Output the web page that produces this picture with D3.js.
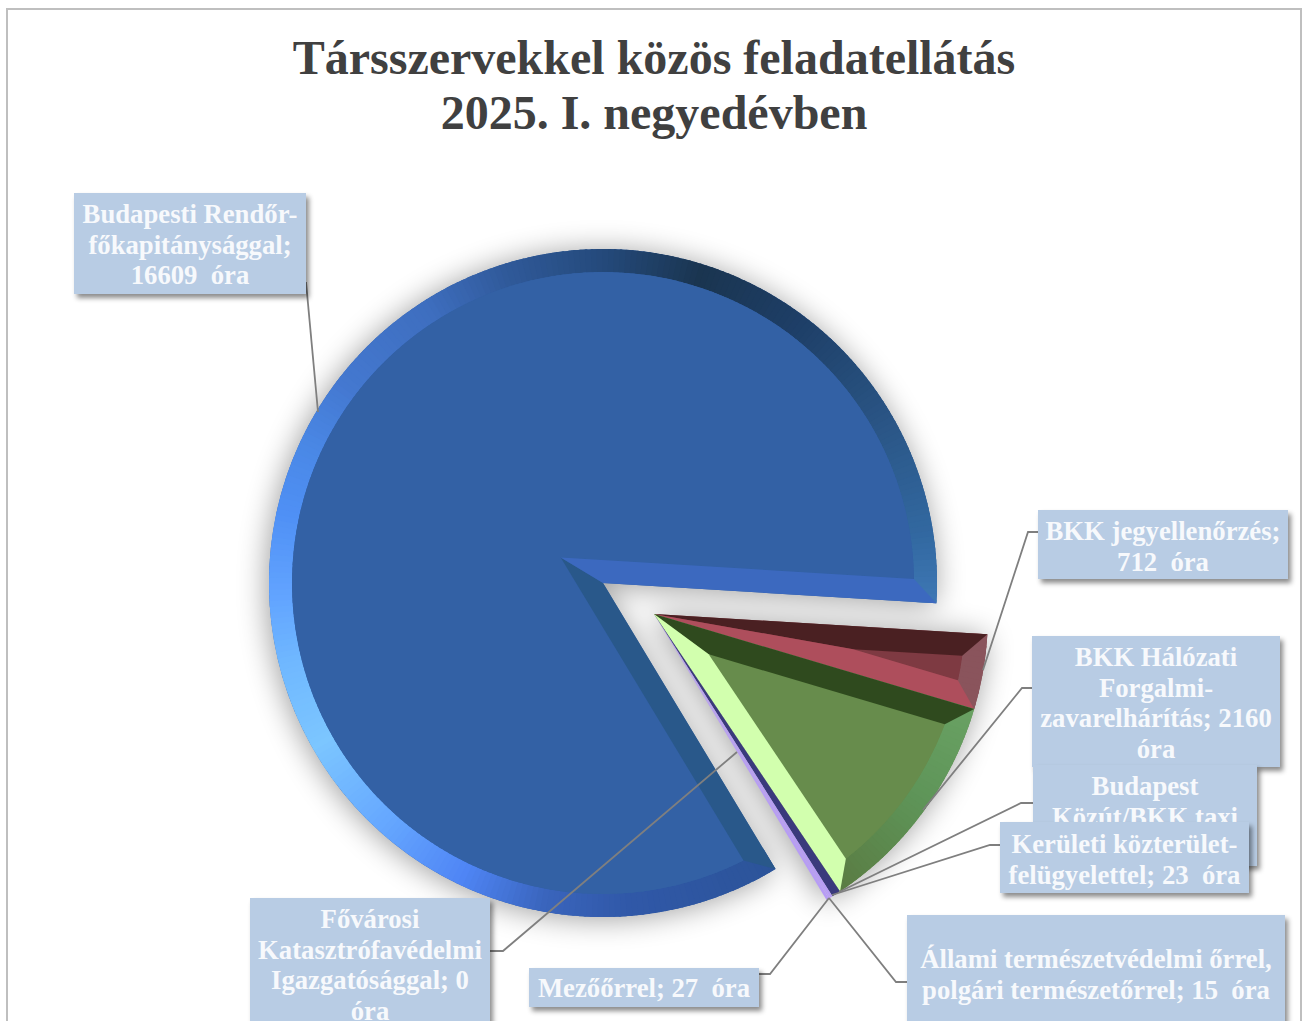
<!DOCTYPE html>
<html>
<head>
<meta charset="utf-8">
<script src="https://d3js.org/d3.v7.min.js"></script>
<style>
  html, body { margin: 0; padding: 0; background: #fff; overflow: hidden; }
  text { font-family: "Liberation Serif", serif; font-weight: bold; white-space: pre; }
</style>
</head>
<body>
<div id="chart"></div>
<script>
const width = 1306;
const height = 1021;

const titleLines = ["Társszervekkel közös feladatellátás", "2025. I. negyedévben"];

// Slice order is the drawing order of the pie, clockwise
const categories = [
    "Budapesti Rendőr-főkapitánysággal",
    "BKK jegyellenőrzés",
    "BKK Hálózati Forgalmi-zavarelhárítás",
    "Budapest Közút/BKK taxi",
    "Kerületi közterület-felügyelettel",
    "Állami természetvédelmi őrrel, polgári természetőrrel",
    "Mezőőrrel",
    "Fővárosi Katasztrófavédelmi Igazgatósággal"
];
// Budapest Közút value is hidden behind another label in the picture, this is an estimate
const values = [16609, 712, 2160, 85, 23, 15, 27, 0];

const faceColors = ["#3361a5", "#7e3a42", "#678c4c", "#3a3a7c", "#b79cf5", "#b79cf5", "#b79cf5", "#b79cf5"];
const startEdgeColors = ["#29588a", "#4a2022", "#2f4a1e"];
const endEdgeColors = ["#3c69bf", "#ae4e5c", "#d2ffae"];

// Rim colours change with direction, degrees clockwise from 12 o'clock, counted on from the pie start
const rimAngles = [
    [148, 175, 190, 205, 222, 240, 255, 267, 282, 294, 307, 327, 342, 360, 377, 397, 419.5, 440.5, 453.4],
    [453, 467],
    [466, 485, 507]
];
const rimColors = [
    ["#2c5499", "#3058a8", "#3a65bd", "#4f85f5", "#66a8ff", "#7cc6ff", "#70b8ff", "#62a4ff", "#4f90f5", "#4a88e6",
     "#4478d0", "#3e6ebf", "#305a9a", "#24497a", "#1a3550", "#1e3f68", "#2a5585", "#3268a0", "#3f78b5"],
    ["#8a545c", "#8a545c"],
    ["#69a163", "#5e9458", "#5a7a42"]
];

const labelLines = [
    ["Budapesti Rendőr-", "főkapitánysággal;", "16609  óra"],
    ["BKK jegyellenőrzés;", "712  óra"],
    ["BKK Hálózati", "Forgalmi-", "zavarelhárítás; 2160", "óra"],
    ["Budapest", "Közút/BKK taxi"],
    ["Kerületi közterület-", "felügyelettel; 23  óra"],
    ["Állami természetvédelmi őrrel,", "polgári természetőrrel; 15  óra"],
    ["Mezőőrrel; 27  óra"],
    ["Fővárosi", "Katasztrófavédelmi", "Igazgatósággal; 0", "óra"]
];

// Label layout, x/y/w/h of the box, first text baseline centre and line step
const labelBoxes = [
    { x: 74, y: 193, w: 232, h: 101, cy: 214 },
    { x: 1038, y: 510, w: 250, h: 69, cy: 531 },
    { x: 1032, y: 636, w: 248, h: 131, cy: 657 },
    { x: 1033, y: 765, w: 224, h: 101, cy: 786 },
    { x: 1000, y: 822, w: 249, h: 71, cy: 844 },
    { x: 907, y: 915, w: 378, h: 118, cy: 959 },
    { x: 529, y: 968, w: 230, h: 39, cy: 988 },
    { x: 250, y: 898, w: 240, h: 132, cy: 919 }
];
const leaderLines = [
    [[306, 282], [318, 412]],
    [[1038, 532], [1028, 532], [983, 670]],
    [[1032, 688], [1022, 688], [923, 810]],
    [[1033, 803], [1021, 803], [839, 892]],
    [[1002, 845], [990, 845], [832, 895]],
    [[907, 982], [896, 982], [829, 898]],
    [[759, 974], [770, 974], [829, 898]],
    [[490, 951], [503, 951], [737, 752]]
];

const center = { x: 603, y: 583 };
const explode = { x: 51, y: 31 };
const radius = 334;
const bevel = 23;
const lineStep = 30.7;

const svg = d3.select("#chart")
    .append("svg")
    .attr("width", width)
    .attr("height", height)
    .style("display", "block");

const defs = svg.append("defs");

defs.append("filter")
    .attr("id", "pie-shadow")
    .attr("filterUnits", "userSpaceOnUse")
    .attr("x", 0).attr("y", 0).attr("width", width).attr("height", height)
    .append("feGaussianBlur")
    .attr("stdDeviation", 15);

const boxShadow = defs.append("filter")
    .attr("id", "box-shadow")
    .attr("x", "-10%").attr("y", "-20%").attr("width", "125%").attr("height", "150%");
boxShadow.append("feDropShadow")
    .attr("dx", 3).attr("dy", 4).attr("stdDeviation", 2.5)
    .attr("flood-color", "#000").attr("flood-opacity", 0.45);

// Frame
svg.append("rect")
    .attr("x", 7).attr("y", 9)
    .attr("width", 1294).attr("height", 1040)
    .attr("fill", "#fff")
    .attr("stroke", "#bfbfbf")
    .attr("stroke-width", 2);

svg.append("g").selectAll("text")
    .data(titleLines)
    .enter()
    .append("text")
    .attr("x", 654)
    .attr("y", (d, i) => 74 + i * 55)
    .attr("text-anchor", "middle")
    .attr("fill", "#404040")
    .style("font-size", "48px")
    .text(d => d);

const pieLayout = d3.pie()
    .sort(null)
    .startAngle(148.9 * Math.PI / 180)
    .endAngle((148.9 + 360) * Math.PI / 180);
const arcs = pieLayout(values);

// Angle 0 is up, clockwise, same as d3.arc
function polar(o, r, a) {
    return [o.x + r * Math.sin(a), o.y - r * Math.cos(a)];
}

function originOf(i) {
    return i === 0 ? center : { x: center.x + explode.x, y: center.y + explode.y };
}

function polyPath(points) {
    return "M" + points.map(p => p.join(",")).join("L") + "Z";
}

function outlinePath(d, i) {
    const o = originOf(i);
    const p = d3.path();
    const p0 = polar(o, radius, d.startAngle);
    p.moveTo(o.x, o.y);
    p.lineTo(p0[0], p0[1]);
    p.arc(o.x, o.y, radius, d.startAngle - Math.PI / 2, d.endAngle - Math.PI / 2);
    p.closePath();
    return p.toString();
}

const shadowLayer = svg.append("g")
    .attr("filter", "url(#pie-shadow)")
    .attr("opacity", 0.38)
    .attr("transform", "translate(-2,2)");
shadowLayer.selectAll("path")
    .data(arcs.filter(d => d.value > 0))
    .enter()
    .append("path")
    .attr("d", (d) => outlinePath(d, d.index))
    .attr("fill", "#000");

const pieLayer = svg.append("g");

arcs.forEach((d, i) => {
    if (d.value === 0) return;
    const o = originOf(i);
    const g = pieLayer.append("g");

    // Slivers are too thin for a bevel, plain wedge
    if (i >= rimAngles.length) {
        g.append("path").attr("d", outlinePath(d, i)).attr("fill", faceColors[i]);
        return;
    }

    const rIn = radius - bevel;
    const half = (d.endAngle - d.startAngle) / 2;
    const mid = (d.startAngle + d.endAngle) / 2;
    const delta = Math.asin(bevel / rIn);
    const innerApex = polar(o, bevel / Math.sin(half), mid);
    const innerStart = polar(o, rIn, d.startAngle + delta);
    const innerEnd = polar(o, rIn, d.endAngle - delta);

    g.append("path").attr("d", outlinePath(d, i)).attr("fill", faceColors[i]);

    // Rim, short arc pieces coloured by direction
    const rimColor = d3.scaleLinear()
        .domain(rimAngles[i])
        .range(rimColors[i]);
    const rimArc = d3.arc().innerRadius(rIn).outerRadius(radius);
    const step = Math.PI / 180;
    const rim = g.append("g").attr("transform", `translate(${o.x},${o.y})`);
    for (let a = d.startAngle; a < d.endAngle; a += step) {
        rim.append("path")
            .attr("d", rimArc({ startAngle: a, endAngle: Math.min(a + step * 1.4, d.endAngle) }))
            .attr("fill", rimColor(a * 180 / Math.PI));
    }

    // Flat top of the slice and the two straight bevels
    const face = d3.path();
    face.moveTo(innerApex[0], innerApex[1]);
    face.lineTo(innerStart[0], innerStart[1]);
    face.arc(o.x, o.y, rIn, d.startAngle + delta - Math.PI / 2, d.endAngle - delta - Math.PI / 2);
    face.closePath();
    g.append("path").attr("d", face.toString()).attr("fill", faceColors[i]);

    g.append("path")
        .attr("d", polyPath([[o.x, o.y], polar(o, radius, d.startAngle), innerStart, innerApex]))
        .attr("fill", startEdgeColors[i]);
    g.append("path")
        .attr("d", polyPath([[o.x, o.y], polar(o, radius, d.endAngle), innerEnd, innerApex]))
        .attr("fill", endEdgeColors[i]);
});

// Leader lines go over the pie, under the boxes
svg.append("g").selectAll("path")
    .data(leaderLines)
    .enter()
    .append("path")
    .attr("d", d => d3.line()(d))
    .attr("fill", "none")
    .attr("stroke", "#7f7f7f")
    .attr("stroke-width", 1.8);

const labels = svg.append("g").selectAll("g")
    .data(labelLines)
    .enter()
    .append("g");

labels.append("rect")
    .attr("x", (d, i) => labelBoxes[i].x)
    .attr("y", (d, i) => labelBoxes[i].y)
    .attr("width", (d, i) => labelBoxes[i].w)
    .attr("height", (d, i) => labelBoxes[i].h)
    .attr("fill", "#b8cce4")
    .attr("filter", "url(#box-shadow)");

labels.each(function(lines, i) {
    const box = labelBoxes[i];
    d3.select(this).selectAll("text")
        .data(lines)
        .enter()
        .append("text")
        .attr("x", box.x + box.w / 2)
        .attr("y", (d, j) => box.cy + j * lineStep)
        .attr("dy", "0.33em")
        .attr("text-anchor", "middle")
        .attr("fill", "#f7f9fc")
        .style("font-size", "26.7px")
        .text(d => d);
});
</script>
</body>
</html>
